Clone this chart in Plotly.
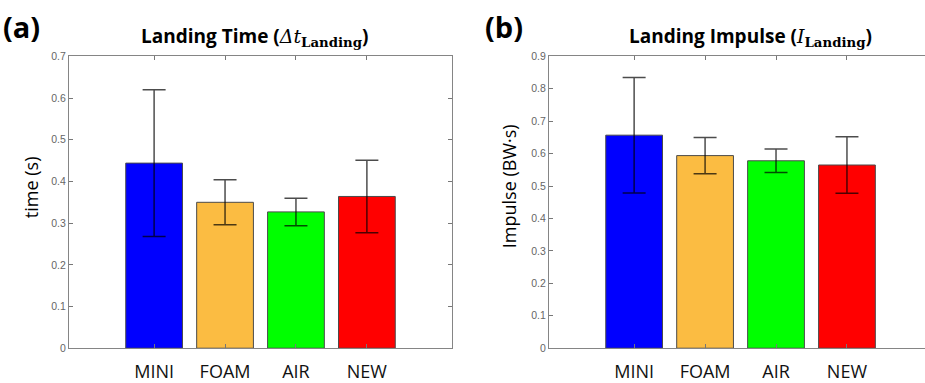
import plotly.graph_objects as go

categories = ["MINI", "FOAM", "AIR", "NEW"]
bar_colors = ["#0000FF", "#FBBC42", "#00FF00", "#FF0000"]

time_mean = [0.444, 0.350, 0.327, 0.364]
time_err = [0.176, 0.054, 0.033, 0.087]

impulse_mean = [0.657, 0.594, 0.578, 0.565]
impulse_err = [0.178, 0.056, 0.036, 0.087]

time_ticks = [0, 0.1, 0.2, 0.3, 0.4, 0.5, 0.6, 0.7]
impulse_ticks = [0, 0.1, 0.2, 0.3, 0.4, 0.5, 0.6, 0.7, 0.8, 0.9]

W, H = 925, 383
xpos = list(range(len(categories)))

fig = go.Figure()
for i, (m, e, ax) in enumerate([(time_mean, time_err, "x"), (impulse_mean, impulse_err, "x2")]):
    fig.add_trace(go.Bar(
        x=xpos, y=m, width=0.8,
        marker=dict(color=bar_colors, line=dict(color="#4a4a4a", width=1)),
        error_y=dict(type="data", array=e, visible=True, color="rgba(0,0,0,0.7)",
                     thickness=1.5, width=11.5),
        xaxis=ax, yaxis="y" if ax == "x" else "y2", showlegend=False,
        hoverinfo="skip",
    ))

ybot = (H - 353.3) / H
ytop = (H - 52) / H

axis_common = dict(showline=True, linecolor="#858585", linewidth=1, ticks="inside",
                   ticklen=4, tickcolor="#777", showgrid=False, zeroline=False)
xfont = dict(family="Open Sans", size=18, color="#111")
yfont = dict(family="Liberation Sans", size=10.5, color="#666")

fig.update_layout(
    width=W, height=H, margin=dict(l=0, r=0, t=0, b=0),
    paper_bgcolor="white", plot_bgcolor="white",
    xaxis=dict(domain=[69 / W, 452 / W], range=[-1.2, 4.2], tickvals=xpos, ticktext=categories,
               mirror="ticks", anchor="y", ticklabelstandoff=7, tickfont=xfont, **axis_common),
    yaxis=dict(domain=[ybot, ytop], range=[0, 0.7], tickvals=time_ticks,
               ticktext=[f"{v:g}" for v in time_ticks], mirror="ticks", anchor="x",
               tickfont=yfont, **axis_common),
    xaxis2=dict(domain=[549 / W, 1.0], range=[-1.2, 4.1], tickvals=xpos, ticktext=categories,
                mirror="ticks", anchor="y2", ticklabelstandoff=7, tickfont=xfont, **axis_common),
    yaxis2=dict(domain=[ybot, ytop], range=[0, 0.9], tickvals=impulse_ticks,
                ticktext=[f"{v:g}" for v in impulse_ticks], mirror=False, anchor="x2",
                tickfont=yfont, **axis_common),
)

serif = "font-family:'DejaVu Serif'"
annotations = [
    dict(text="<b>(a)</b>", x=1 / W, y=(H - 21) / H, xanchor="left", yanchor="middle",
         font=dict(family="Open Sans", size=29, color="black")),
    dict(text="<b>(b)</b>", x=483 / W, y=(H - 21) / H, xanchor="left", yanchor="middle",
         font=dict(family="Open Sans", size=29, color="black")),
    dict(text=f"<b>Landing Time (</b><span style=\"{serif}\"><i>Δt</i><sub><b>Landing</b></sub></span><b>)</b>",
         x=255 / W, y=(H - 32) / H, xanchor="center", yanchor="middle",
         font=dict(family="Open Sans", size=19, color="black")),
    dict(text=f"<b>Landing Impulse (</b><span style=\"{serif}\"><i>I</i><sub><b>Landing</b></sub></span><b>)</b>",
         x=750 / W, y=(H - 32) / H, xanchor="center", yanchor="middle",
         font=dict(family="Open Sans", size=19, color="black")),
    dict(text="time (s)", x=31 / W, y=(H - 187) / H, xanchor="center", yanchor="middle",
         textangle=-90, font=dict(family="Open Sans", size=18, color="black")),
    dict(text="Impulse (BW·s)", x=509 / W, y=(H - 186) / H, xanchor="center", yanchor="middle",
         textangle=-90, font=dict(family="Open Sans", size=18, color="black")),
]
for a in annotations:
    a.update(xref="paper", yref="paper", showarrow=False)
fig.update_layout(annotations=annotations)

fig.write_html("out.html")
